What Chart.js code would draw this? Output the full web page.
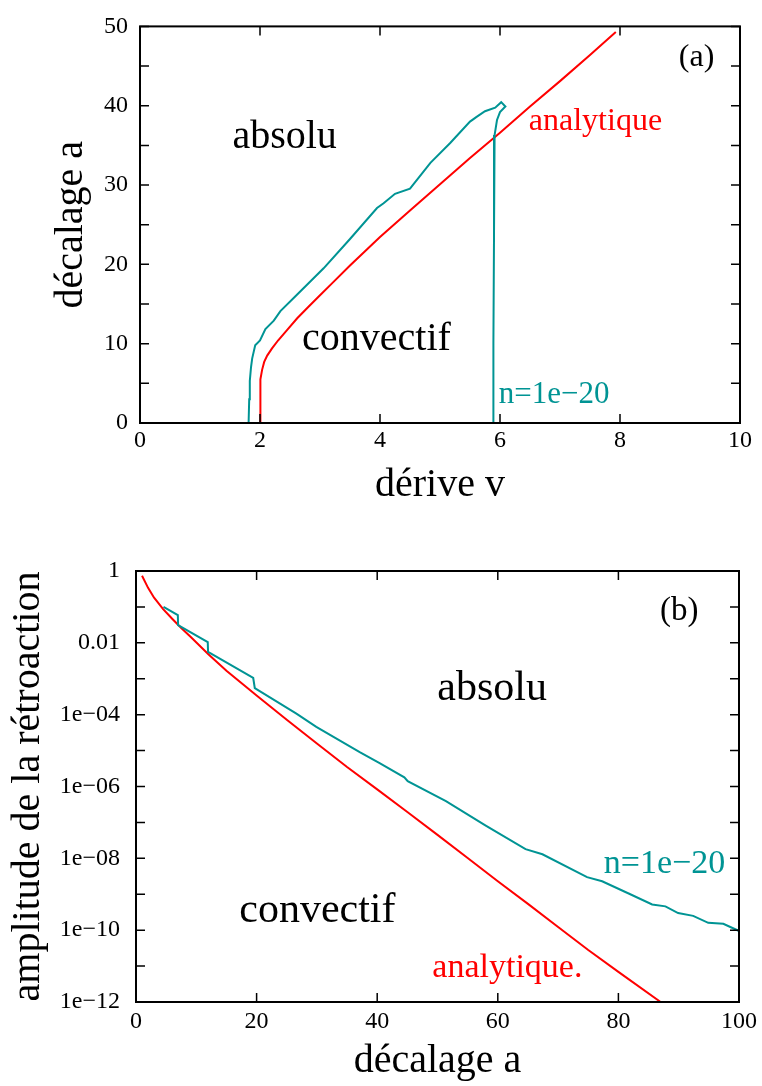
<!DOCTYPE html>
<html>
<head>
<meta charset="utf-8">
<script src="https://cdn.jsdelivr.net/npm/chart.js@4.4.1/dist/chart.umd.min.js"></script>
<style>
  html, body { margin: 0; padding: 0; background: #fff; }
  canvas { position: absolute; left: 0; }
  #chartA { top: 0; }
  #chartB { top: 530px; }
</style>
</head>
<body>
<canvas id="chartA" width="762" height="530"></canvas>
<canvas id="chartB" width="762" height="556"></canvas>
<script>
// (a) seuil absolu / convectif dans le plan (dérive v, décalage a)
const analytiqueV = [2.0, 2.0, 2.005, 2.015, 2.035, 2.07, 2.12, 2.2, 2.3, 2.45, 2.62, 2.8, 3.0, 3.2, 3.5, 3.75, 4.0, 4.5, 5.0, 5.5, 6.0, 6.5, 7.0, 7.5, 7.93];
const analytiqueA = [0, 2, 4, 5.5, 6.7, 7.7, 8.5, 9.4, 10.4, 11.7, 13.2, 14.6, 16.1, 17.6, 19.85, 21.65, 23.45, 26.8, 30.1, 33.4, 36.6, 39.9, 43.1, 46.4, 49.3];
const numeriqueV = [1.81, 1.82, 1.83, 1.85, 1.87, 1.92, 2.0, 2.09, 2.23, 2.34, 2.62, 3.06, 3.5, 3.95, 4.06, 4.25, 4.5, 4.84, 5.17, 5.5, 5.61, 5.75, 5.92, 6.02, 6.09, 6.0, 5.95, 5.91, 5.9, 5.89, 5.89];
const numeriqueA = [0, 3, 5.3, 7, 8.15, 9.8, 10.4, 11.85, 12.9, 14.1, 16.2, 19.5, 23.2, 27.1, 27.7, 28.9, 29.55, 32.8, 35.3, 38.0, 38.6, 39.3, 39.75, 40.45, 39.9, 39.2, 38.2, 36.3, 23.4, 10, 0];

const xTicksA = [0, 2, 4, 6, 8, 10];
const yTicksA = [0, 10, 20, 30, 40, 50];
const yMinorA = [5, 15, 25, 35, 45];

// (b) amplitude de la rétroaction en fonction du décalage a
const analytiqueDecalage = [1, 2, 3, 4.5, 6, 7.5, 9, 12, 15, 20, 25, 30, 35, 40, 45, 50, 55, 60, 65, 70, 75, 80, 87];
const analytiqueAmplitude = [0.74, 0.34, 0.18, 8.7e-2, 4.7e-2, 2.6e-2, 1.5e-2, 4.8e-3, 1.66e-3, 3.4e-4, 7.2e-5, 1.58e-5, 3.5e-6, 8.3e-7, 1.95e-7, 4.5e-8, 1.02e-8, 2.3e-9, 5.4e-10, 1.23e-10, 2.8e-11, 6.9e-12, 1e-12];
const numeriqueDecalage = [4.56, 6.94, 6.98, 11.9, 11.95, 19.44, 19.7, 26.6, 29.9, 37.1, 40.4, 44.5, 45.06, 51.4, 58.0, 64.6, 67.4, 74.8, 77.3, 81.7, 85.6, 87.8, 89.9, 92.4, 94.9, 97.4, 100];
const numeriqueAmplitude = [0.1, 5.9e-2, 3.1e-2, 1.05e-2, 5.6e-3, 1.05e-3, 5.5e-4, 1.07e-4, 4.6e-5, 9.1e-6, 4.5e-6, 1.8e-6, 1.4e-6, 3.9e-7, 8.1e-8, 1.8e-8, 1.3e-8, 3.0e-9, 2.3e-9, 1.05e-9, 5.2e-10, 4.6e-10, 3.0e-10, 2.5e-10, 1.6e-10, 1.5e-10, 9.5e-11];

const xTicksB = [0, 20, 40, 60, 80, 100];
const yTicksB = [1, 1e-2, 1e-4, 1e-6, 1e-8, 1e-10, 1e-12];
const yTickLabelsB = ['1', '0.01', '1e\u221204', '1e\u221206', '1e\u221208', '1e\u221210', '1e\u221212'];
const yMinorB = [1e-1, 1e-3, 1e-5, 1e-7, 1e-9, 1e-11];

const colors = {
  rouge: '#ff0000',
  sarcelle: '#009494',
  noir: '#000000',
};

Chart.defaults.font.family = "'Liberation Serif', 'Times New Roman', serif";
Chart.defaults.color = colors.noir;

function points(xs, ys) {
  return xs.map((x, i) => ({ x: x, y: ys[i] }));
}

// cadre noir + graduations vers l'intérieur sur les 4 côtés
const cadre = {
  id: 'cadre',
  afterDatasetsDraw(chart) {
    const { ctx, chartArea: { left, top, right, bottom }, scales: { x, y } } = chart;
    ctx.save();
    ctx.strokeStyle = colors.noir;
    ctx.lineWidth = 1.5;
    ctx.beginPath();
    x.ticks.forEach(t => {
      const px = x.getPixelForValue(t.value);
      ctx.moveTo(px, bottom); ctx.lineTo(px, bottom - 9);
      ctx.moveTo(px, top); ctx.lineTo(px, top + 9);
    });
    y.ticks.forEach(t => {
      const py = y.getPixelForValue(t.value);
      ctx.moveTo(left, py); ctx.lineTo(left + 9, py);
      ctx.moveTo(right, py); ctx.lineTo(right - 9, py);
    });
    ctx.stroke();
    ctx.lineWidth = 2;
    ctx.strokeRect(left, top, right - left, bottom - top);
    ctx.restore();
  }
};

// étiquettes placées en coordonnées de données
function textes(items) {
  return {
    id: 'textes',
    afterDraw(chart) {
      const { ctx, scales: { x, y } } = chart;
      ctx.save();
      ctx.textAlign = 'left';
      ctx.textBaseline = 'alphabetic';
      items.forEach(it => {
        ctx.font = it.size + "px 'Liberation Serif', 'Times New Roman', serif";
        ctx.fillStyle = it.color;
        ctx.fillText(it.text, x.getPixelForValue(it.x), y.getPixelForValue(it.y));
      });
      ctx.restore();
    }
  };
}

function ligne(label, data, color) {
  return {
    label: label,
    data: data,
    showLine: true,
    borderColor: color,
    backgroundColor: color,
    borderWidth: 2,
    pointRadius: 0,
    tension: 0,
    fill: false,
  };
}

// 1. panneau (a)
new Chart(document.getElementById('chartA'), {
  type: 'scatter',
  data: {
    datasets: [
      ligne('n=1e\u221220', points(numeriqueV, numeriqueA), colors.sarcelle),
      ligne('analytique', points(analytiqueV, analytiqueA), colors.rouge),
    ]
  },
  options: {
    responsive: false,
    animation: false,
    layout: { padding: { top: 18, right: 22, left: 0, bottom: 0 } },
    plugins: { legend: { display: false }, tooltip: { enabled: false } },
    scales: {
      x: {
        type: 'linear', min: 0, max: 10,
        afterBuildTicks: s => { s.ticks = xTicksA.map(v => ({ value: v })); },
        afterFit: s => { s.height = 107; },
        grid: { display: false, drawTicks: false },
        border: { display: false },
        ticks: { padding: 3, autoSkip: false, maxRotation: 0, font: { size: 24 }, color: colors.noir },
        title: { display: true, text: 'dérive v', font: { size: 40 }, color: colors.noir, padding: { top: 0, bottom: 21 } }
      },
      y: {
        type: 'linear', min: 0, max: 50,
        afterBuildTicks: s => { s.ticks = yTicksA.concat(yMinorA).map(v => ({ value: v })); },
        afterFit: s => { s.width = 140; },
        grid: { display: false, drawTicks: false },
        border: { display: false },
        ticks: {
          padding: 12, autoSkip: false, font: { size: 24 }, color: colors.noir,
          callback: v => (yTicksA.includes(v) ? String(v) : '')
        },
        title: { display: true, text: 'décalage a', font: { size: 40 }, color: colors.noir, padding: { top: 47, bottom: 0 } }
      }
    }
  },
  plugins: [cadre, textes([
    { text: 'absolu', x: 1.54, y: 34.7, size: 40, color: colors.noir },
    { text: 'convectif', x: 2.70, y: 9.19, size: 40, color: colors.noir },
    { text: 'analytique', x: 6.48, y: 36.96, size: 32, color: colors.rouge },
    { text: '(a)', x: 8.98, y: 45.0, size: 32, color: colors.noir },
    { text: 'n=1e\u221220', x: 5.98, y: 2.55, size: 31, color: colors.sarcelle },
  ])]
});

// 2. panneau (b)
new Chart(document.getElementById('chartB'), {
  type: 'scatter',
  data: {
    datasets: [
      ligne('n=1e\u221220', points(numeriqueDecalage, numeriqueAmplitude), colors.sarcelle),
      ligne('analytique.', points(analytiqueDecalage, analytiqueAmplitude), colors.rouge),
    ]
  },
  options: {
    responsive: false,
    animation: false,
    layout: { padding: { top: 41, right: 21, left: 0, bottom: 0 } },
    plugins: { legend: { display: false }, tooltip: { enabled: false } },
    scales: {
      x: {
        type: 'linear', min: 0, max: 100,
        afterBuildTicks: s => { s.ticks = xTicksB.map(v => ({ value: v })); },
        afterFit: s => { s.height = 84; },
        grid: { display: false, drawTicks: false },
        border: { display: false },
        ticks: { padding: 5, autoSkip: false, maxRotation: 0, font: { size: 24 }, color: colors.noir },
        title: { display: true, text: 'décalage a', font: { size: 40 }, color: colors.noir, padding: { top: 0, bottom: 1 } }
      },
      y: {
        type: 'logarithmic', min: 1e-12, max: 1,
        afterBuildTicks: s => { s.ticks = yTicksB.concat(yMinorB).map(v => ({ value: v })); },
        afterFit: s => { s.width = 136; },
        grid: { display: false, drawTicks: false },
        border: { display: false },
        ticks: {
          padding: 16, autoSkip: false, font: { size: 24 }, color: colors.noir,
          callback: v => { const i = yTicksB.indexOf(v); return i >= 0 ? yTickLabelsB[i] : ''; }
        },
        title: { display: true, text: 'amplitude de la rétroaction', font: { size: 40 }, color: colors.noir, padding: { top: 4, bottom: 0 } }
      }
    }
  },
  plugins: [cadre, textes([
    { text: '(b)', x: 86.9, y: 4.4e-2, size: 33, color: colors.noir },
    { text: 'absolu', x: 49.97, y: 2.6e-4, size: 42, color: colors.noir },
    { text: 'n=1e\u221220', x: 77.57, y: 4.0e-9, size: 34, color: colors.sarcelle },
    { text: 'convectif', x: 17.12, y: 1.74e-10, size: 42, color: colors.noir },
    { text: 'analytique.', x: 49.14, y: 4.9e-12, size: 34, color: colors.rouge },
  ])]
});
</script>
</body>
</html>
